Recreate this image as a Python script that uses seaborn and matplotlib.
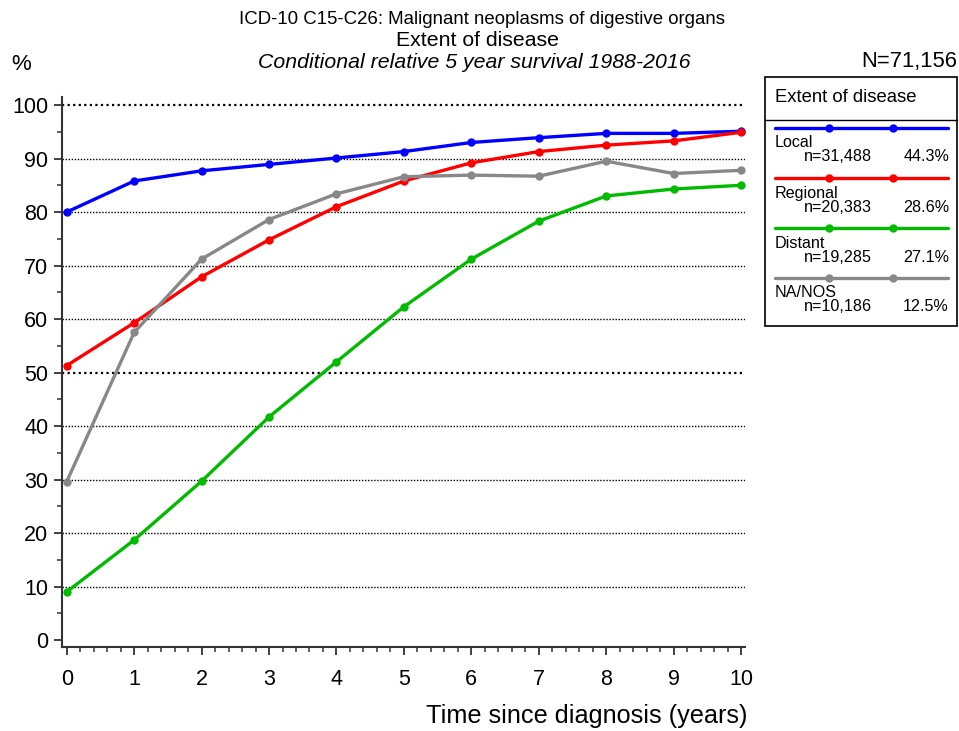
import matplotlib
matplotlib.use("Agg")
import matplotlib.pyplot as plt
from matplotlib.lines import Line2D
from matplotlib.patches import Rectangle
from matplotlib.ticker import MultipleLocator
import seaborn as sns
import pandas as pd

years = [0, 1, 2, 3, 4, 5, 6, 7, 8, 9, 10]
local = [80.0, 85.8, 87.7, 88.9, 90.1, 91.3, 93.0, 93.9, 94.7, 94.7, 95.1]
regional = [51.3, 59.3, 67.9, 74.8, 81.0, 85.8, 89.2, 91.3, 92.5, 93.3, 94.9]
distant = [9.0, 18.7, 29.7, 41.7, 52.0, 62.3, 71.2, 78.3, 83.0, 84.3, 85.0]
na_nos = [29.6, 57.5, 71.2, 78.6, 83.4, 86.6, 86.9, 86.7, 89.5, 87.2, 87.8]

groups = ["Local", "Regional", "Distant", "NA/NOS"]
counts = ["n=31,488", "n=20,383", "n=19,285", "n=10,186"]
shares = ["44.3%", "28.6%", "27.1%", "12.5%"]
colors = ["#0000ff", "#ff0000", "#00bb00", "#888888"]

sns.set_style("white")
plt.rcParams['font.family'] = ['Liberation Sans', 'DejaVu Sans']
plt.rcParams['text.color'] = 'black'
plt.rcParams['xtick.color'] = 'black'
plt.rcParams['ytick.color'] = 'black'

rows = []
for g, vals in zip(groups, [local, regional, distant, na_nos]):
    for x, v in zip(years, vals):
        rows.append({"year": x, "survival": v, "group": g})
df = pd.DataFrame(rows)

fig = plt.figure(figsize=(9.59, 7.31), dpi=100)
ax = fig.add_axes([0.065, 0.1153, 0.712, 0.752])

for yv in range(10, 101, 10):
    thick = yv in (50, 100)
    ax.axhline(yv, color="black", linestyle=(0, (1, 1.5)) if thick else (0, (1, 1.2)),
               linewidth=1.6 if thick else 1.0, zorder=1)

sns.lineplot(data=df, x="year", y="survival", hue="group", hue_order=groups,
             palette=colors, marker="o", markersize=6, markeredgewidth=0,
             linewidth=2.4, ax=ax, legend=False, zorder=3)

ax.set_xlim(-0.065, 10.06)
ax.set_ylim(-1.25, 101.5)
ax.xaxis.set_major_locator(MultipleLocator(1))
ax.xaxis.set_minor_locator(MultipleLocator(0.2))
ax.yaxis.set_major_locator(MultipleLocator(10))
ax.yaxis.set_minor_locator(MultipleLocator(5))
ax.tick_params(axis="both", which="both", bottom=True, left=True, top=False, right=False)
ax.tick_params(axis="both", which="major", direction="out", length=6, width=1.3,
               color="#333333", labelsize=15.5, labelcolor="black", pad=4)
ax.tick_params(axis="both", which="minor", direction="out", length=3.5, width=1.1,
               color="#333333")
ax.tick_params(axis="x", which="major", pad=10)
for s in ["top", "right"]:
    ax.spines[s].set_visible(False)
for s in ["left", "bottom"]:
    ax.spines[s].set_color("#333333")
    ax.spines[s].set_linewidth(1.5)
ax.set_xlabel("")
ax.set_ylabel("")


def fx(px):
    return px / 959


def fy(py):
    return 1 - py / 731


fig.text(fx(747), fy(716), "Time since diagnosis (years)", ha="right",
         va="center", fontsize=18.2)

fig.text(fx(482), fy(19), "ICD-10 C15-C26: Malignant neoplasms of digestive organs",
         ha="center", va="center", fontsize=13.4)
fig.text(fx(477), fy(40), "Extent of disease", ha="center", va="center", fontsize=15.3)
fig.text(fx(474), fy(62), "Conditional relative 5 year survival 1988-2016",
         ha="center", va="center", fontsize=15.3, style="italic")
fig.text(fx(11), fy(64), "%", ha="left", va="center", fontsize=16)
fig.text(fx(957), fy(62), "N=71,156", ha="right", va="center", fontsize=15.8)

# Legend box
fig.patches.append(Rectangle((fx(765), fy(326)), fx(957) - fx(765), fy(77) - fy(326),
                             transform=fig.transFigure, fill=False, edgecolor="black",
                             linewidth=1.2))
fig.lines.append(Line2D([fx(765), fx(957)], [fy(120), fy(120)], transform=fig.transFigure,
                        color="black", linewidth=1.0))
fig.text(fx(775), fy(98), "Extent of disease", ha="left", va="center", fontsize=13.3)

line_y = [127.5, 178.3, 228.3, 277.7]
for g, c, n, p, ly in zip(groups, colors, counts, shares, line_y):
    fig.lines.append(Line2D([fx(775), fx(948)], [fy(ly), fy(ly)], transform=fig.transFigure,
                            color=c, linewidth=2.4))
    fig.lines.append(Line2D([fx(829), fx(893)], [fy(ly), fy(ly)], transform=fig.transFigure,
                            color=c, linestyle="none", marker="o", markersize=6,
                            markeredgewidth=0))
    fig.text(fx(775), fy(ly + 15), g, ha="left", va="center", fontsize=11.6)
    fig.text(fx(804), fy(ly + 29), n, ha="left", va="center", fontsize=11.6)
    fig.text(fx(949), fy(ly + 29), p, ha="right", va="center", fontsize=11.6)

fig.savefig("out.png", dpi=100)
